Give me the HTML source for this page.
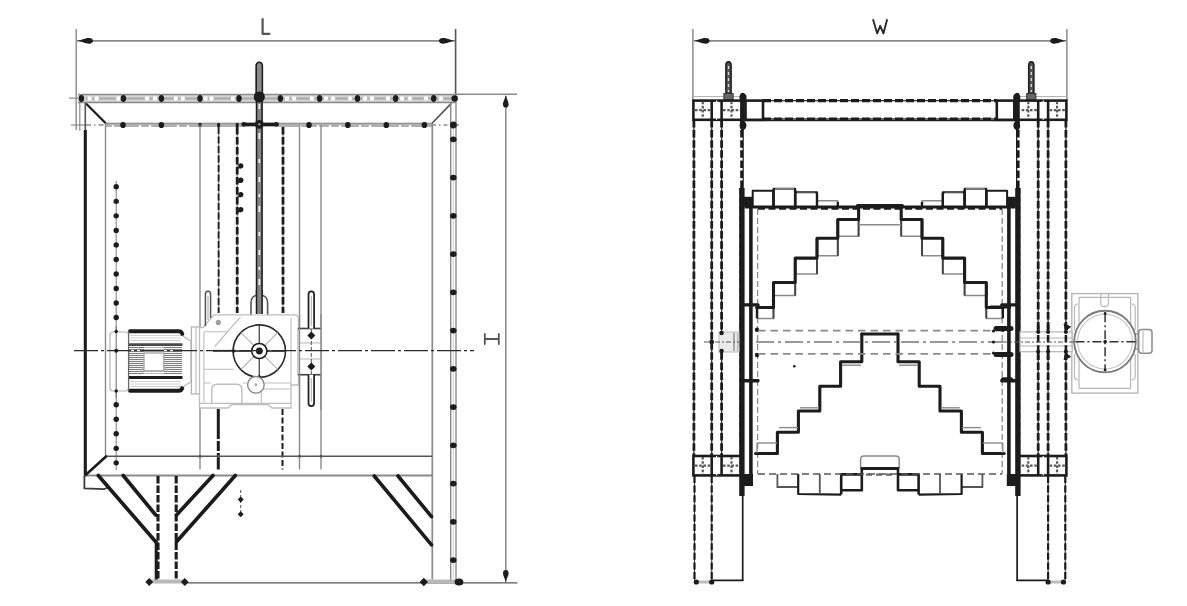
<!DOCTYPE html>
<html><head><meta charset="utf-8"><title>Drawing</title>
<style>
html,body{margin:0;padding:0;background:#fff;font-family:"Liberation Sans",sans-serif;}
svg{display:block;filter:blur(0.5px);}
</style></head><body>
<svg width="1187" height="606" viewBox="0 0 1187 606">
<rect width="1187" height="606" fill="#fff"/>
<g id="left">
<line x1="76.2" y1="29" x2="76.2" y2="130" stroke="#8a8a8a" stroke-width="1.4" stroke-linecap="butt"/>
<line x1="455.6" y1="29" x2="455.6" y2="103" stroke="#555" stroke-width="1.6" stroke-linecap="butt"/>
<line x1="77" y1="40.8" x2="455" y2="40.8" stroke="#8a8a8a" stroke-width="1.8" stroke-linecap="butt"/>
<path d="M77,40.8 C82.6,39.93 85.0,37.9 89.0,37.9 C91.72,37.9 93,39.059999999999995 93,40.8 C93,42.54 91.72,43.699999999999996 89.0,43.699999999999996 C85.0,43.699999999999996 82.6,41.669999999999995 77,40.8 Z" fill="#1c1c1c"/>
<path d="M455,40.8 C449.4,39.93 447.0,37.9 443.0,37.9 C440.28,37.9 439,39.059999999999995 439,40.8 C439,42.54 440.28,43.699999999999996 443.0,43.699999999999996 C447.0,43.699999999999996 449.4,41.669999999999995 455,40.8 Z" fill="#1c1c1c"/>
<path d="M262.6,19 L262.6,33.8 L269.4,33.8" stroke="#555" stroke-width="2.2" fill="none" stroke-linejoin="round" stroke-linecap="round"/>
<line x1="455" y1="94.3" x2="517" y2="94.3" stroke="#8a8a8a" stroke-width="1.6" stroke-linecap="butt"/>
<line x1="185" y1="582.8" x2="517.5" y2="582.8" stroke="#555" stroke-width="1.3" stroke-linecap="butt"/>
<line x1="505.8" y1="96" x2="505.8" y2="582" stroke="#8a8a8a" stroke-width="1.5" stroke-linecap="butt"/>
<path d="M505.8,95 C504.96000000000004,99.38 503.0,101.25 503.0,104.38 C503.0,106.5 504.12,107.5 505.8,107.5 C507.48,107.5 508.6,106.5 508.6,104.38 C508.6,101.25 506.64,99.38 505.8,95 Z" fill="#1c1c1c"/>
<path d="M505.8,582.5 C504.96000000000004,578.12 503.0,576.25 503.0,573.12 C503.0,571.0 504.12,570.0 505.8,570.0 C507.48,570.0 508.6,571.0 508.6,573.12 C508.6,576.25 506.64,578.12 505.8,582.5 Z" fill="#1c1c1c"/>
<path d="M484.8,334 L484.8,344 M498.8,334 L498.8,344 M484.8,339 L498.8,339" stroke="#555" stroke-width="1.8" fill="none" stroke-linejoin="miter" stroke-linecap="round"/>
<line x1="79.8" y1="99" x2="79.8" y2="131" stroke="#8a8a8a" stroke-width="1.2" stroke-linecap="butt"/>
<line x1="69" y1="98.2" x2="80" y2="98.2" stroke="#8a8a8a" stroke-width="1.2" stroke-linecap="butt"/>
<line x1="71" y1="125" x2="86" y2="125" stroke="#8a8a8a" stroke-width="1.2" stroke-linecap="butt"/>
<line x1="86" y1="125" x2="105" y2="125" stroke="#555" stroke-width="1.2" stroke-linecap="butt" stroke-dasharray="5 3 1.5 3"/>
<rect x="78" y="94.2" width="377.5" height="8.6" fill="#d4d4d4" stroke="none" stroke-width="0" rx="0"/>
<line x1="78" y1="94.4" x2="455.5" y2="94.4" stroke="#8a8a8a" stroke-width="1.5" stroke-linecap="butt"/>
<line x1="78" y1="102.6" x2="455.5" y2="102.6" stroke="#8a8a8a" stroke-width="1.5" stroke-linecap="butt"/>
<line x1="86" y1="98.5" x2="452" y2="98.5" stroke="#a8a8a8" stroke-width="2.2" stroke-linecap="butt"/>
<circle cx="89.7" cy="98.5" r="2.2" fill="#fff" stroke="none" stroke-width="0"/>
<circle cx="96.6" cy="98.5" r="2.2" fill="#fff" stroke="none" stroke-width="0"/>
<circle cx="118.4" cy="98.5" r="2.2" fill="#fff" stroke="none" stroke-width="0"/>
<circle cx="147" cy="98.5" r="2.2" fill="#fff" stroke="none" stroke-width="0"/>
<circle cx="155" cy="98.5" r="2.2" fill="#fff" stroke="none" stroke-width="0"/>
<circle cx="175.8" cy="98.5" r="2.2" fill="#fff" stroke="none" stroke-width="0"/>
<circle cx="182.8" cy="98.5" r="2.2" fill="#fff" stroke="none" stroke-width="0"/>
<circle cx="205.5" cy="98.5" r="2.2" fill="#fff" stroke="none" stroke-width="0"/>
<circle cx="211.5" cy="98.5" r="2.2" fill="#fff" stroke="none" stroke-width="0"/>
<circle cx="233" cy="98.5" r="2.2" fill="#fff" stroke="none" stroke-width="0"/>
<circle cx="287" cy="98.5" r="2.2" fill="#fff" stroke="none" stroke-width="0"/>
<circle cx="294" cy="98.5" r="2.2" fill="#fff" stroke="none" stroke-width="0"/>
<circle cx="312" cy="98.5" r="2.2" fill="#fff" stroke="none" stroke-width="0"/>
<circle cx="326" cy="98.5" r="2.2" fill="#fff" stroke="none" stroke-width="0"/>
<circle cx="333" cy="98.5" r="2.2" fill="#fff" stroke="none" stroke-width="0"/>
<circle cx="350" cy="98.5" r="2.2" fill="#fff" stroke="none" stroke-width="0"/>
<circle cx="365" cy="98.5" r="2.2" fill="#fff" stroke="none" stroke-width="0"/>
<circle cx="372" cy="98.5" r="2.2" fill="#fff" stroke="none" stroke-width="0"/>
<circle cx="388" cy="98.5" r="2.2" fill="#fff" stroke="none" stroke-width="0"/>
<circle cx="402" cy="98.5" r="2.2" fill="#fff" stroke="none" stroke-width="0"/>
<circle cx="410" cy="98.5" r="2.2" fill="#fff" stroke="none" stroke-width="0"/>
<circle cx="426" cy="98.5" r="2.2" fill="#fff" stroke="none" stroke-width="0"/>
<circle cx="441" cy="98.5" r="2.2" fill="#fff" stroke="none" stroke-width="0"/>
<ellipse cx="81.4" cy="98.5" rx="2.7" ry="3.4" fill="#1c1c1c"/>
<ellipse cx="123.4" cy="98.5" rx="2.7" ry="3.4" fill="#1c1c1c"/>
<ellipse cx="161.4" cy="98.5" rx="2.7" ry="3.4" fill="#1c1c1c"/>
<ellipse cx="200" cy="98.5" rx="2.7" ry="3.4" fill="#1c1c1c"/>
<ellipse cx="239" cy="98.5" rx="2.7" ry="3.4" fill="#1c1c1c"/>
<ellipse cx="280.4" cy="98.5" rx="2.7" ry="3.4" fill="#1c1c1c"/>
<ellipse cx="319.6" cy="98.5" rx="2.7" ry="3.4" fill="#1c1c1c"/>
<ellipse cx="357.5" cy="98.5" rx="2.7" ry="3.4" fill="#1c1c1c"/>
<ellipse cx="395.6" cy="98.5" rx="2.7" ry="3.4" fill="#1c1c1c"/>
<ellipse cx="433.7" cy="98.5" rx="2.7" ry="3.4" fill="#1c1c1c"/>
<circle cx="454.7" cy="98.5" r="3.2" fill="#1c1c1c" stroke="none" stroke-width="0"/>
<line x1="105.5" y1="125" x2="432" y2="125" stroke="#b0b0b0" stroke-width="4.2" stroke-linecap="butt"/>
<line x1="105.5" y1="123.2" x2="432" y2="123.2" stroke="#8a8a8a" stroke-width="1" stroke-linecap="butt"/>
<circle cx="113" cy="126.3" r="1.2" fill="#fff" stroke="none" stroke-width="0"/>
<circle cx="140" cy="126.3" r="1.2" fill="#fff" stroke="none" stroke-width="0"/>
<circle cx="150" cy="126.3" r="1.2" fill="#fff" stroke="none" stroke-width="0"/>
<circle cx="178" cy="126.3" r="1.2" fill="#fff" stroke="none" stroke-width="0"/>
<circle cx="188" cy="126.3" r="1.2" fill="#fff" stroke="none" stroke-width="0"/>
<circle cx="300" cy="126.3" r="1.2" fill="#fff" stroke="none" stroke-width="0"/>
<circle cx="318" cy="126.3" r="1.2" fill="#fff" stroke="none" stroke-width="0"/>
<circle cx="330" cy="126.3" r="1.2" fill="#fff" stroke="none" stroke-width="0"/>
<circle cx="340" cy="126.3" r="1.2" fill="#fff" stroke="none" stroke-width="0"/>
<circle cx="360" cy="126.3" r="1.2" fill="#fff" stroke="none" stroke-width="0"/>
<circle cx="370" cy="126.3" r="1.2" fill="#fff" stroke="none" stroke-width="0"/>
<circle cx="400" cy="126.3" r="1.2" fill="#fff" stroke="none" stroke-width="0"/>
<circle cx="410" cy="126.3" r="1.2" fill="#fff" stroke="none" stroke-width="0"/>
<ellipse cx="123" cy="125" rx="2.8" ry="3.1" fill="#1c1c1c"/>
<ellipse cx="161.4" cy="125" rx="2.8" ry="3.1" fill="#1c1c1c"/>
<ellipse cx="309" cy="125" rx="2.8" ry="3.1" fill="#1c1c1c"/>
<ellipse cx="347.8" cy="125" rx="2.8" ry="3.1" fill="#1c1c1c"/>
<ellipse cx="386.3" cy="125" rx="2.8" ry="3.1" fill="#1c1c1c"/>
<ellipse cx="424.4" cy="125" rx="2.8" ry="3.1" fill="#1c1c1c"/>
<ellipse cx="200" cy="125" rx="1.6" ry="2.2" fill="#1c1c1c"/>
<ellipse cx="218.6" cy="125" rx="1.6" ry="2.2" fill="#1c1c1c"/>
<ellipse cx="237.2" cy="125" rx="1.6" ry="2.2" fill="#1c1c1c"/>
<line x1="432" y1="125" x2="462" y2="125" stroke="#555" stroke-width="1.2" stroke-linecap="butt" stroke-dasharray="4 3 1.5 3"/>
<line x1="86.7" y1="104.2" x2="105.5" y2="123" stroke="#1c1c1c" stroke-width="2.2" stroke-linecap="round"/>
<line x1="432.3" y1="123" x2="451.5" y2="103.2" stroke="#555" stroke-width="1.7" stroke-linecap="butt"/>
<line x1="85.3" y1="103" x2="85.3" y2="131" stroke="#555" stroke-width="1.6" stroke-linecap="butt"/>
<line x1="85.3" y1="130" x2="85.3" y2="475.5" stroke="#1c1c1c" stroke-width="3.1" stroke-linecap="butt"/>
<line x1="105.5" y1="123" x2="105.5" y2="456.3" stroke="#8a8a8a" stroke-width="1.4" stroke-linecap="butt"/>
<line x1="116.2" y1="181" x2="116.2" y2="470" stroke="#8a8a8a" stroke-width="1.1" stroke-linecap="butt"/>
<circle cx="116.2" cy="186.8" r="2.7" fill="#1c1c1c" stroke="none" stroke-width="0"/>
<circle cx="116.2" cy="201.33" r="2.7" fill="#1c1c1c" stroke="none" stroke-width="0"/>
<circle cx="116.2" cy="215.86" r="2.7" fill="#1c1c1c" stroke="none" stroke-width="0"/>
<circle cx="116.2" cy="230.39000000000001" r="2.7" fill="#1c1c1c" stroke="none" stroke-width="0"/>
<circle cx="116.2" cy="244.92000000000002" r="2.7" fill="#1c1c1c" stroke="none" stroke-width="0"/>
<circle cx="116.2" cy="259.45" r="2.7" fill="#1c1c1c" stroke="none" stroke-width="0"/>
<circle cx="116.2" cy="273.98" r="2.7" fill="#1c1c1c" stroke="none" stroke-width="0"/>
<circle cx="116.2" cy="288.51" r="2.7" fill="#1c1c1c" stroke="none" stroke-width="0"/>
<circle cx="116.2" cy="303.04" r="2.7" fill="#1c1c1c" stroke="none" stroke-width="0"/>
<circle cx="116.2" cy="317.57" r="2.7" fill="#1c1c1c" stroke="none" stroke-width="0"/>
<circle cx="116.2" cy="404.75" r="2.7" fill="#1c1c1c" stroke="none" stroke-width="0"/>
<circle cx="116.2" cy="419.28" r="2.7" fill="#1c1c1c" stroke="none" stroke-width="0"/>
<circle cx="116.2" cy="433.81" r="2.7" fill="#1c1c1c" stroke="none" stroke-width="0"/>
<circle cx="116.2" cy="448.34" r="2.7" fill="#1c1c1c" stroke="none" stroke-width="0"/>
<circle cx="116.2" cy="462.87" r="2.7" fill="#1c1c1c" stroke="none" stroke-width="0"/>
<line x1="200" y1="125" x2="200" y2="469.5" stroke="#8a8a8a" stroke-width="1.4" stroke-linecap="butt"/>
<line x1="299.5" y1="125" x2="299.5" y2="469.5" stroke="#8a8a8a" stroke-width="1.4" stroke-linecap="butt"/>
<line x1="321" y1="125" x2="321" y2="469.5" stroke="#8a8a8a" stroke-width="1.4" stroke-linecap="butt"/>
<line x1="218.6" y1="127" x2="218.6" y2="313" stroke="#8a8a8a" stroke-width="1.3" stroke-linecap="butt"/>
<line x1="237.2" y1="127" x2="237.2" y2="313" stroke="#8a8a8a" stroke-width="1.3" stroke-linecap="butt"/>
<line x1="283" y1="127" x2="283" y2="313" stroke="#8a8a8a" stroke-width="1.3" stroke-linecap="butt"/>
<line x1="218.6" y1="127" x2="218.6" y2="313" stroke="#1c1c1c" stroke-width="1.8" stroke-linecap="butt" stroke-dasharray="7 2.5"/>
<line x1="237.2" y1="127" x2="237.2" y2="313" stroke="#1c1c1c" stroke-width="2.8" stroke-linecap="butt" stroke-dasharray="7.5 2.5"/>
<line x1="283" y1="127" x2="283" y2="313" stroke="#1c1c1c" stroke-width="2.8" stroke-linecap="butt" stroke-dasharray="7.5 2.5"/>
<line x1="218.3" y1="409" x2="218.3" y2="469.5" stroke="#1c1c1c" stroke-width="3" stroke-linecap="butt" stroke-dasharray="30 2 10 2"/>
<line x1="282.5" y1="409" x2="282.5" y2="469.5" stroke="#1c1c1c" stroke-width="2" stroke-linecap="butt" stroke-dasharray="6 2.5"/>
<circle cx="240.8" cy="165.8" r="2.6" fill="#1c1c1c" stroke="none" stroke-width="0"/>
<line x1="238" y1="167.8" x2="241" y2="167.8" stroke="#1c1c1c" stroke-width="1.2" stroke-linecap="butt"/>
<circle cx="240.8" cy="180.2" r="2.6" fill="#1c1c1c" stroke="none" stroke-width="0"/>
<line x1="238" y1="182.2" x2="241" y2="182.2" stroke="#1c1c1c" stroke-width="1.2" stroke-linecap="butt"/>
<circle cx="240.8" cy="194.6" r="2.6" fill="#1c1c1c" stroke="none" stroke-width="0"/>
<line x1="238" y1="196.6" x2="241" y2="196.6" stroke="#1c1c1c" stroke-width="1.2" stroke-linecap="butt"/>
<circle cx="240.8" cy="209.6" r="2.6" fill="#1c1c1c" stroke="none" stroke-width="0"/>
<line x1="238" y1="211.6" x2="241" y2="211.6" stroke="#1c1c1c" stroke-width="1.2" stroke-linecap="butt"/>
<rect x="256.2" y="64" width="6.2" height="236" fill="#858585" stroke="none" stroke-width="0" rx="0"/>
<line x1="256.5" y1="64" x2="256.5" y2="300" stroke="#1c1c1c" stroke-width="1.5" stroke-linecap="butt"/>
<line x1="262.1" y1="64" x2="262.1" y2="300" stroke="#1c1c1c" stroke-width="1.5" stroke-linecap="butt"/>
<path d="M256.2,66 Q256.2,62.2 259.3,62.2 Q262.4,62.2 262.4,66 L262.4,96 L256.2,96 Z" stroke="#1c1c1c" stroke-width="1.5" fill="#8a8a8a" stroke-linejoin="miter" stroke-linecap="butt"/>
<line x1="259.3" y1="104" x2="259.3" y2="296" stroke="#fff" stroke-width="1.6" stroke-linecap="butt" stroke-dasharray="5 12 3 9 6 20 4 14"/>
<circle cx="259.3" cy="97" r="5.6" fill="#1c1c1c" stroke="none" stroke-width="0"/>
<line x1="243.5" y1="124.3" x2="276.5" y2="124.3" stroke="#1c1c1c" stroke-width="3.2" stroke-linecap="round"/>
<circle cx="243.8" cy="124.3" r="2.4" fill="#1c1c1c" stroke="none" stroke-width="0"/>
<circle cx="276.4" cy="124.3" r="2.4" fill="#1c1c1c" stroke="none" stroke-width="0"/>
<circle cx="259.3" cy="124.3" r="4.4" fill="#1c1c1c" stroke="none" stroke-width="0"/>
<circle cx="259.3" cy="124.3" r="1.2" fill="#999" stroke="none" stroke-width="0"/>
<line x1="432.3" y1="123" x2="432.3" y2="579.5" stroke="#8a8a8a" stroke-width="1.7" stroke-linecap="butt"/>
<line x1="450.7" y1="103" x2="450.7" y2="580" stroke="#8a8a8a" stroke-width="1.4" stroke-linecap="butt"/>
<line x1="456" y1="103" x2="456" y2="580" stroke="#8a8a8a" stroke-width="1.4" stroke-linecap="butt"/>
<line x1="453.3" y1="128" x2="453.3" y2="578" stroke="#d8d8d8" stroke-width="1.2" stroke-linecap="butt"/>
<ellipse cx="453.3" cy="139.3" rx="3.3" ry="2.9" fill="#1c1c1c"/>
<ellipse cx="453.3" cy="177.55" rx="3.3" ry="2.9" fill="#1c1c1c"/>
<ellipse cx="453.3" cy="215.8" rx="3.3" ry="2.9" fill="#1c1c1c"/>
<ellipse cx="453.3" cy="254.05" rx="3.3" ry="2.9" fill="#1c1c1c"/>
<ellipse cx="453.3" cy="292.3" rx="3.3" ry="2.9" fill="#1c1c1c"/>
<ellipse cx="453.3" cy="330.55" rx="3.3" ry="2.9" fill="#1c1c1c"/>
<ellipse cx="453.3" cy="368.8" rx="3.3" ry="2.9" fill="#1c1c1c"/>
<ellipse cx="453.3" cy="407.05" rx="3.3" ry="2.9" fill="#1c1c1c"/>
<ellipse cx="453.3" cy="445.3" rx="3.3" ry="2.9" fill="#1c1c1c"/>
<ellipse cx="453.3" cy="483.55" rx="3.3" ry="2.9" fill="#1c1c1c"/>
<ellipse cx="453.3" cy="521.8" rx="3.3" ry="2.9" fill="#1c1c1c"/>
<ellipse cx="453.3" cy="560.05" rx="3.3" ry="2.9" fill="#1c1c1c"/>
<circle cx="453.3" cy="125" r="3.4" fill="#1c1c1c" stroke="none" stroke-width="0"/>
<line x1="106" y1="456.3" x2="432.3" y2="456.3" stroke="#555" stroke-width="1.5" stroke-linecap="butt"/>
<line x1="85" y1="475.5" x2="432.3" y2="475.5" stroke="#8a8a8a" stroke-width="1.8" stroke-linecap="butt"/>
<line x1="85.6" y1="475" x2="106" y2="456.5" stroke="#1c1c1c" stroke-width="2.6" stroke-linecap="round"/>
<circle cx="200" cy="456.3" r="1.5" fill="#555" stroke="none" stroke-width="0"/>
<circle cx="218.3" cy="456.3" r="1.5" fill="#555" stroke="none" stroke-width="0"/>
<circle cx="299.5" cy="456.3" r="1.5" fill="#555" stroke="none" stroke-width="0"/>
<circle cx="321" cy="456.3" r="1.5" fill="#555" stroke="none" stroke-width="0"/>
<path d="M84.4,475.5 L84.4,488.3 L104,489.2 L108.5,487" stroke="#3a3a3a" stroke-width="1.8" fill="none" stroke-linejoin="miter" stroke-linecap="butt"/>
<line x1="98.3" y1="475.5" x2="155.7" y2="541.8" stroke="#1c1c1c" stroke-width="3.7" stroke-linecap="round"/>
<line x1="123.2" y1="475.5" x2="155.7" y2="515" stroke="#1c1c1c" stroke-width="3.7" stroke-linecap="round"/>
<line x1="213" y1="475.5" x2="176.5" y2="515" stroke="#1c1c1c" stroke-width="3.7" stroke-linecap="round"/>
<line x1="235.3" y1="475.5" x2="176.5" y2="541.8" stroke="#1c1c1c" stroke-width="3.7" stroke-linecap="round"/>
<line x1="158" y1="476" x2="158" y2="580" stroke="#1c1c1c" stroke-width="3.1" stroke-linecap="butt" stroke-dasharray="7.5 2"/>
<line x1="176.2" y1="476" x2="176.2" y2="580" stroke="#1c1c1c" stroke-width="3.1" stroke-linecap="butt" stroke-dasharray="7.5 2"/>
<line x1="156.2" y1="540" x2="156.2" y2="580" stroke="#1c1c1c" stroke-width="3" stroke-linecap="butt"/>
<line x1="150" y1="581.5" x2="184" y2="581.5" stroke="#b8b8b8" stroke-width="4" stroke-linecap="butt"/>
<path d="M145.29999999999998,582 L149.2,578.1 L153.1,582 L149.2,585.9 Z" fill="#1c1c1c"/>
<path d="M180.9,582 L184.8,578.1 L188.70000000000002,582 L184.8,585.9 Z" fill="#1c1c1c"/>
<line x1="240.7" y1="490" x2="240.7" y2="515" stroke="#555" stroke-width="1" stroke-linecap="butt" stroke-dasharray="3 2"/>
<path d="M237.7,499.6 L240.7,496.6 L243.7,499.6 L240.7,502.6 Z" fill="#1c1c1c"/>
<path d="M237.7,514.3 L240.7,511.29999999999995 L243.7,514.3 L240.7,517.3 Z" fill="#1c1c1c"/>
<line x1="374.2" y1="476" x2="431.5" y2="544.8" stroke="#1c1c1c" stroke-width="3.6" stroke-linecap="round"/>
<line x1="398" y1="476" x2="431.5" y2="516.6" stroke="#1c1c1c" stroke-width="3.6" stroke-linecap="round"/>
<line x1="424" y1="581.5" x2="458" y2="581.5" stroke="#b8b8b8" stroke-width="4" stroke-linecap="butt"/>
<path d="M419.6,582 L423.8,577.8 L428.0,582 L423.8,586.2 Z" fill="#1c1c1c"/>
<ellipse cx="459" cy="582" rx="4.4" ry="3.6" fill="#1c1c1c"/>
<rect x="110" y="332" width="18.5" height="59" fill="#fff" stroke="#b4b4b4" stroke-width="1.2" rx="3"/>
<rect x="128.2" y="329.5" width="54.5" height="64" fill="#fff" stroke="none" stroke-width="0" rx="0"/>
<line x1="130" y1="335.5" x2="181" y2="335.5" stroke="#d0d0d0" stroke-width="1" stroke-linecap="butt"/>
<line x1="130" y1="338" x2="181" y2="338" stroke="#d0d0d0" stroke-width="1" stroke-linecap="butt"/>
<line x1="130" y1="340.5" x2="181" y2="340.5" stroke="#d0d0d0" stroke-width="1" stroke-linecap="butt"/>
<line x1="130" y1="381.5" x2="181" y2="381.5" stroke="#d0d0d0" stroke-width="1" stroke-linecap="butt"/>
<line x1="130" y1="384" x2="181" y2="384" stroke="#d0d0d0" stroke-width="1" stroke-linecap="butt"/>
<line x1="130" y1="386.5" x2="181" y2="386.5" stroke="#d0d0d0" stroke-width="1" stroke-linecap="butt"/>
<line x1="129" y1="347.5" x2="144" y2="347.5" stroke="#808080" stroke-width="1.1" stroke-linecap="butt"/>
<line x1="164" y1="347.5" x2="182" y2="347.5" stroke="#808080" stroke-width="1.1" stroke-linecap="butt"/>
<line x1="144" y1="347.5" x2="164" y2="347.5" stroke="#b8b8b8" stroke-width="1" stroke-linecap="butt"/>
<line x1="129" y1="349.5" x2="144" y2="349.5" stroke="#808080" stroke-width="1.1" stroke-linecap="butt"/>
<line x1="164" y1="349.5" x2="182" y2="349.5" stroke="#808080" stroke-width="1.1" stroke-linecap="butt"/>
<line x1="144" y1="349.5" x2="164" y2="349.5" stroke="#b8b8b8" stroke-width="1" stroke-linecap="butt"/>
<line x1="129" y1="351.5" x2="144" y2="351.5" stroke="#808080" stroke-width="1.1" stroke-linecap="butt"/>
<line x1="164" y1="351.5" x2="182" y2="351.5" stroke="#808080" stroke-width="1.1" stroke-linecap="butt"/>
<line x1="144" y1="351.5" x2="164" y2="351.5" stroke="#b8b8b8" stroke-width="1" stroke-linecap="butt"/>
<line x1="129" y1="353.5" x2="144" y2="353.5" stroke="#808080" stroke-width="1.1" stroke-linecap="butt"/>
<line x1="164" y1="353.5" x2="182" y2="353.5" stroke="#808080" stroke-width="1.1" stroke-linecap="butt"/>
<line x1="144" y1="353.5" x2="164" y2="353.5" stroke="#b8b8b8" stroke-width="1" stroke-linecap="butt"/>
<line x1="129" y1="355.5" x2="144" y2="355.5" stroke="#808080" stroke-width="1.1" stroke-linecap="butt"/>
<line x1="164" y1="355.5" x2="182" y2="355.5" stroke="#808080" stroke-width="1.1" stroke-linecap="butt"/>
<line x1="144" y1="355.5" x2="164" y2="355.5" stroke="#b8b8b8" stroke-width="1" stroke-linecap="butt"/>
<line x1="129" y1="357.5" x2="144" y2="357.5" stroke="#808080" stroke-width="1.1" stroke-linecap="butt"/>
<line x1="164" y1="357.5" x2="182" y2="357.5" stroke="#808080" stroke-width="1.1" stroke-linecap="butt"/>
<line x1="144" y1="357.5" x2="164" y2="357.5" stroke="#b8b8b8" stroke-width="1" stroke-linecap="butt"/>
<line x1="129" y1="359.5" x2="144" y2="359.5" stroke="#808080" stroke-width="1.1" stroke-linecap="butt"/>
<line x1="164" y1="359.5" x2="182" y2="359.5" stroke="#808080" stroke-width="1.1" stroke-linecap="butt"/>
<line x1="144" y1="359.5" x2="164" y2="359.5" stroke="#b8b8b8" stroke-width="1" stroke-linecap="butt"/>
<line x1="129" y1="361.5" x2="144" y2="361.5" stroke="#808080" stroke-width="1.1" stroke-linecap="butt"/>
<line x1="164" y1="361.5" x2="182" y2="361.5" stroke="#808080" stroke-width="1.1" stroke-linecap="butt"/>
<line x1="144" y1="361.5" x2="164" y2="361.5" stroke="#b8b8b8" stroke-width="1" stroke-linecap="butt"/>
<line x1="129" y1="363.5" x2="144" y2="363.5" stroke="#808080" stroke-width="1.1" stroke-linecap="butt"/>
<line x1="164" y1="363.5" x2="182" y2="363.5" stroke="#808080" stroke-width="1.1" stroke-linecap="butt"/>
<line x1="144" y1="363.5" x2="164" y2="363.5" stroke="#b8b8b8" stroke-width="1" stroke-linecap="butt"/>
<line x1="129" y1="365.5" x2="144" y2="365.5" stroke="#808080" stroke-width="1.1" stroke-linecap="butt"/>
<line x1="164" y1="365.5" x2="182" y2="365.5" stroke="#808080" stroke-width="1.1" stroke-linecap="butt"/>
<line x1="144" y1="365.5" x2="164" y2="365.5" stroke="#b8b8b8" stroke-width="1" stroke-linecap="butt"/>
<line x1="129" y1="367.5" x2="144" y2="367.5" stroke="#808080" stroke-width="1.1" stroke-linecap="butt"/>
<line x1="164" y1="367.5" x2="182" y2="367.5" stroke="#808080" stroke-width="1.1" stroke-linecap="butt"/>
<line x1="144" y1="367.5" x2="164" y2="367.5" stroke="#b8b8b8" stroke-width="1" stroke-linecap="butt"/>
<line x1="129" y1="369.5" x2="144" y2="369.5" stroke="#808080" stroke-width="1.1" stroke-linecap="butt"/>
<line x1="164" y1="369.5" x2="182" y2="369.5" stroke="#808080" stroke-width="1.1" stroke-linecap="butt"/>
<line x1="144" y1="369.5" x2="164" y2="369.5" stroke="#b8b8b8" stroke-width="1" stroke-linecap="butt"/>
<line x1="129" y1="371.5" x2="144" y2="371.5" stroke="#808080" stroke-width="1.1" stroke-linecap="butt"/>
<line x1="164" y1="371.5" x2="182" y2="371.5" stroke="#808080" stroke-width="1.1" stroke-linecap="butt"/>
<line x1="144" y1="371.5" x2="164" y2="371.5" stroke="#b8b8b8" stroke-width="1" stroke-linecap="butt"/>
<line x1="129" y1="373.5" x2="144" y2="373.5" stroke="#808080" stroke-width="1.1" stroke-linecap="butt"/>
<line x1="164" y1="373.5" x2="182" y2="373.5" stroke="#808080" stroke-width="1.1" stroke-linecap="butt"/>
<line x1="144" y1="373.5" x2="164" y2="373.5" stroke="#b8b8b8" stroke-width="1" stroke-linecap="butt"/>
<rect x="144" y="353" width="19.8" height="17.8" fill="#fff" stroke="#aaa" stroke-width="1.4" rx="0"/>
<path d="M140,372 L144,366 M168,372 L164,366" stroke="#b4b4b4" stroke-width="1.2" fill="none" stroke-linejoin="miter" stroke-linecap="butt"/>
<line x1="128.5" y1="344.6" x2="182.5" y2="344.6" stroke="#4a4a4a" stroke-width="2.6" stroke-linecap="butt"/>
<line x1="128.5" y1="377.6" x2="182.5" y2="377.6" stroke="#1c1c1c" stroke-width="3" stroke-linecap="butt"/>
<path d="M130,331.2 L178.5,331.2 Q181.5,331.2 182.3,334" stroke="#1c1c1c" stroke-width="4" fill="none" stroke-linejoin="round" stroke-linecap="round"/>
<path d="M130,390.8 L178.5,390.8 Q181.5,390.8 182.3,388" stroke="#1c1c1c" stroke-width="4" fill="none" stroke-linejoin="round" stroke-linecap="round"/>
<line x1="128.6" y1="331" x2="128.6" y2="391" stroke="#666" stroke-width="1.2" stroke-linecap="butt"/>
<path d="M182.5,336 L191,341 L191,382 L182.5,387" stroke="#b4b4b4" stroke-width="1.2" fill="none" stroke-linejoin="miter" stroke-linecap="butt"/>
<rect x="191.4" y="327" width="9.2" height="67" fill="#fff" stroke="#b4b4b4" stroke-width="1.3" rx="0"/>
<line x1="196" y1="327" x2="196" y2="394" stroke="#b4b4b4" stroke-width="1" stroke-linecap="butt"/>
<path d="M199.5,327.7 L203,327.7 L213.8,314.9 L294,314.9 Q298.5,314.9 298.5,319 L298.5,385 L291,385 L291,408 L272,408 L268,404.5 L232,404.5 L228,408 L199.5,408 Z" stroke="#bdbdbd" stroke-width="1.3" fill="#fff" stroke-linejoin="miter" stroke-linecap="butt"/>
<path d="M203.9,332 L203.9,402 M291,318 L291,385 M203.9,331.7 L228,331.7 M203.9,369.3 L234,369.3 M203.9,383 L211,383 M243,383 L248,383 M264,383 L291,383 M199.5,403.4 L291,403.4" stroke="#bdbdbd" stroke-width="1.1" fill="none" stroke-linejoin="miter" stroke-linecap="butt"/>
<path d="M214.8,346.5 L240.5,316.8" stroke="#bdbdbd" stroke-width="1.2" fill="none" stroke-linejoin="miter" stroke-linecap="butt"/>
<path d="M211.8,403.4 L211.8,389.5 Q211.8,384.2 217,384.2 L236.7,384.2 Q241.9,384.2 241.9,389.5 L241.9,403.4" stroke="#bdbdbd" stroke-width="1.4" fill="none" stroke-linejoin="miter" stroke-linecap="butt"/>
<path d="M261.3,403.4 L261.3,392 Q261.3,389 264,389 L291,389" stroke="#bdbdbd" stroke-width="1.1" fill="none" stroke-linejoin="miter" stroke-linecap="butt"/>
<circle cx="259.3" cy="351.1" r="26.2" fill="#fff" stroke="#2a2a2a" stroke-width="1.6"/>
<line x1="240.91522368914977" y1="332.6152236891498" x2="277.6847763108502" y2="369.3847763108502" stroke="#b4b4b4" stroke-width="1.2" stroke-linecap="butt"/>
<line x1="277.6847763108502" y1="332.6152236891498" x2="240.91522368914977" y2="369.3847763108502" stroke="#b4b4b4" stroke-width="1.2" stroke-linecap="butt"/>
<line x1="259.3" y1="325" x2="259.3" y2="377" stroke="#555" stroke-width="1.4" stroke-linecap="butt"/>
<line x1="233.3" y1="351" x2="285.3" y2="351" stroke="#1c1c1c" stroke-width="1.5" stroke-linecap="butt"/>
<circle cx="259.3" cy="351" r="7.6" fill="#fff" stroke="#1c1c1c" stroke-width="1.5"/>
<circle cx="259.3" cy="351" r="3.4" fill="#1c1c1c" stroke="none" stroke-width="0"/>
<circle cx="233.5" cy="351" r="1.8" fill="#1c1c1c" stroke="none" stroke-width="0"/>
<circle cx="259.3" cy="377" r="1.8" fill="#1c1c1c" stroke="none" stroke-width="0"/>
<line x1="213" y1="350.8" x2="234" y2="350.8" stroke="#1c1c1c" stroke-width="1.8" stroke-linecap="butt"/>
<circle cx="255.9" cy="384.8" r="8.3" fill="#fff" stroke="#888" stroke-width="1.4"/>
<circle cx="255.9" cy="384.8" r="1.6" fill="#b4b4b4" stroke="none" stroke-width="0"/>
<circle cx="218.3" cy="322.4" r="2.6" fill="#a0a0a0" stroke="none" stroke-width="0"/>
<path d="M205.4,326 L205.4,294.5 Q205.4,291.3 208,291.3 Q210.6,291.3 210.6,294.5 L210.6,318" stroke="#555" stroke-width="1.5" fill="none" stroke-linejoin="miter" stroke-linecap="butt"/>
<line x1="208" y1="296" x2="208" y2="320" stroke="#b4b4b4" stroke-width="1.2" stroke-linecap="butt"/>
<path d="M251,314.6 L251,303 Q251,295 259.3,295 Q267.6,295 267.6,303 L267.6,314.6" stroke="#555" stroke-width="1.6" fill="#fff" stroke-linejoin="miter" stroke-linecap="butt"/>
<rect x="256.2" y="290" width="6.2" height="24" fill="#858585" stroke="none" stroke-width="0" rx="0"/>
<line x1="256.5" y1="290" x2="256.5" y2="314" stroke="#1c1c1c" stroke-width="1.5" stroke-linecap="butt"/>
<line x1="262.1" y1="290" x2="262.1" y2="314" stroke="#1c1c1c" stroke-width="1.5" stroke-linecap="butt"/>
<rect x="298" y="328.5" width="23" height="46.2" fill="#fff" stroke="#b4b4b4" stroke-width="1.2" rx="0"/>
<line x1="298" y1="328.5" x2="321" y2="328.5" stroke="#444" stroke-width="1.6" stroke-linecap="butt"/>
<line x1="298" y1="374.7" x2="321" y2="374.7" stroke="#444" stroke-width="1.6" stroke-linecap="butt"/>
<line x1="298" y1="343" x2="321" y2="343" stroke="#b4b4b4" stroke-width="1" stroke-linecap="butt"/>
<line x1="298" y1="359" x2="321" y2="359" stroke="#b4b4b4" stroke-width="1" stroke-linecap="butt"/>
<path d="M308.5,328.5 L308.5,294.5 Q308.5,291.3 311.3,291.3 Q314.1,291.3 314.1,294.5 L314.1,328.5" stroke="#1c1c1c" stroke-width="1.7" fill="#fff" stroke-linejoin="miter" stroke-linecap="butt"/>
<path d="M308.5,374.7 L308.5,403 Q308.5,406.2 311.3,406.2 Q314.1,406.2 314.1,403 L314.1,374.7" stroke="#1c1c1c" stroke-width="1.7" fill="#fff" stroke-linejoin="miter" stroke-linecap="butt"/>
<line x1="311.3" y1="296" x2="311.3" y2="326" stroke="#b4b4b4" stroke-width="1.1" stroke-linecap="butt"/>
<line x1="311.3" y1="378" x2="311.3" y2="402" stroke="#b4b4b4" stroke-width="1.1" stroke-linecap="butt"/>
<line x1="311.3" y1="329" x2="311.3" y2="374" stroke="#555" stroke-width="1" stroke-linecap="butt" stroke-dasharray="4 2"/>
<path d="M307.3,335.4 L311.3,331.4 L315.3,335.4 L311.3,339.4 Z" fill="#1c1c1c"/>
<path d="M307.3,366.6 L311.3,362.6 L315.3,366.6 L311.3,370.6 Z" fill="#1c1c1c"/>
<line x1="299.5" y1="314" x2="299.5" y2="410" stroke="#8a8a8a" stroke-width="1.3" stroke-linecap="butt"/>
<line x1="321" y1="314" x2="321" y2="410" stroke="#8a8a8a" stroke-width="1.3" stroke-linecap="butt"/>
<line x1="74" y1="350.7" x2="474" y2="350.7" stroke="#2a2a2a" stroke-width="1.3" stroke-linecap="butt" stroke-dasharray="24 3 3 3"/>
<line x1="116.2" y1="326" x2="116.2" y2="398" stroke="#777" stroke-width="1.1" stroke-linecap="butt"/>
<circle cx="116.2" cy="331.5" r="1.7" fill="#1c1c1c" stroke="none" stroke-width="0"/>
<circle cx="116.2" cy="350.7" r="2" fill="#1c1c1c" stroke="none" stroke-width="0"/>
<circle cx="116.2" cy="391" r="1.7" fill="#1c1c1c" stroke="none" stroke-width="0"/>
</g>
<g id="right">
<line x1="692.9" y1="29" x2="692.9" y2="101" stroke="#8a8a8a" stroke-width="1.5" stroke-linecap="butt"/>
<line x1="1066.9" y1="29" x2="1066.9" y2="101" stroke="#8a8a8a" stroke-width="1.5" stroke-linecap="butt"/>
<line x1="694" y1="40.8" x2="1066" y2="40.8" stroke="#8a8a8a" stroke-width="1.8" stroke-linecap="butt"/>
<path d="M693.6,40.8 C699.2,39.93 701.6,37.9 705.6,37.9 C708.32,37.9 709.6,39.059999999999995 709.6,40.8 C709.6,42.54 708.32,43.699999999999996 705.6,43.699999999999996 C701.6,43.699999999999996 699.2,41.669999999999995 693.6,40.8 Z" fill="#1c1c1c"/>
<path d="M1066.2,40.8 C1060.6,39.93 1058.2,37.9 1054.2,37.9 C1051.48,37.9 1050.2,39.059999999999995 1050.2,40.8 C1050.2,42.54 1051.48,43.699999999999996 1054.2,43.699999999999996 C1058.2,43.699999999999996 1060.6,41.669999999999995 1066.2,40.8 Z" fill="#1c1c1c"/>
<path d="M873.2,20 L877.2,33.4 L880.2,25.8 L883.4,33.4 L887,20" stroke="#2a2a2a" stroke-width="1.9" fill="none" stroke-linejoin="round" stroke-linecap="round"/>
<line x1="693" y1="96.5" x2="741" y2="96.5" stroke="#b4b4b4" stroke-width="1" stroke-linecap="butt"/>
<line x1="1019" y1="96.5" x2="1067" y2="96.5" stroke="#b4b4b4" stroke-width="1" stroke-linecap="butt"/>
<path d="M725.9,93.5 L725.9,65.5 Q725.9,62 728.5,61.8 Q731.1,62 731.1,65.5 L731.1,93.5 Z" stroke="#1c1c1c" stroke-width="1.5" fill="#555" stroke-linejoin="miter" stroke-linecap="butt"/>
<line x1="728.5" y1="66" x2="728.5" y2="92" stroke="#ddd" stroke-width="1.3" stroke-linecap="butt" stroke-dasharray="3 3"/>
<rect x="723.9" y="93.5" width="9.2" height="6.5" fill="#666" stroke="#333" stroke-width="1" rx="0"/>
<line x1="693.9" y1="120" x2="693.9" y2="456" stroke="#3a3a3a" stroke-width="1.3" stroke-linecap="butt"/>
<line x1="693.9" y1="120" x2="693.9" y2="456" stroke="#1c1c1c" stroke-width="2.8" stroke-linecap="butt" stroke-dasharray="7.5 2.6"/>
<line x1="711.7" y1="120" x2="711.7" y2="456" stroke="#3a3a3a" stroke-width="1.3" stroke-linecap="butt"/>
<line x1="711.7" y1="120" x2="711.7" y2="456" stroke="#1c1c1c" stroke-width="2.8" stroke-linecap="butt" stroke-dasharray="7.5 2.6"/>
<line x1="721.6" y1="120" x2="721.6" y2="456" stroke="#3a3a3a" stroke-width="1.3" stroke-linecap="butt"/>
<line x1="721.6" y1="120" x2="721.6" y2="456" stroke="#1c1c1c" stroke-width="2.8" stroke-linecap="butt" stroke-dasharray="7.5 2.6"/>
<line x1="741.6" y1="120" x2="741.6" y2="192" stroke="#1c1c1c" stroke-width="2.8" stroke-linecap="butt" stroke-dasharray="7.5 2.6"/>
<line x1="743.2" y1="120" x2="743.2" y2="192" stroke="#1c1c1c" stroke-width="1.2" stroke-linecap="butt"/>
<line x1="694.5" y1="476" x2="694.5" y2="580" stroke="#444" stroke-width="1.1" stroke-linecap="butt"/>
<line x1="694.5" y1="476" x2="694.5" y2="580" stroke="#1c1c1c" stroke-width="2.2" stroke-linecap="butt" stroke-dasharray="7 2.6"/>
<line x1="711.7" y1="476" x2="711.7" y2="580" stroke="#444" stroke-width="1.1" stroke-linecap="butt"/>
<line x1="711.7" y1="476" x2="711.7" y2="580" stroke="#1c1c1c" stroke-width="2.2" stroke-linecap="butt" stroke-dasharray="7 2.6"/>
<line x1="742.7" y1="486" x2="742.7" y2="581" stroke="#1c1c1c" stroke-width="1.7" stroke-linecap="butt"/>
<line x1="711.7" y1="580.3" x2="743.4" y2="580.3" stroke="#1c1c1c" stroke-width="1.7" stroke-linecap="butt"/>
<line x1="696" y1="582" x2="711" y2="582" stroke="#bdbdbd" stroke-width="3" stroke-linecap="butt"/>
<circle cx="696.3" cy="582" r="2.6" fill="#1c1c1c" stroke="none" stroke-width="0"/>
<circle cx="711.7" cy="582" r="2.6" fill="#1c1c1c" stroke="none" stroke-width="0"/>
<rect x="693.4" y="100.6" width="48.10000000000002" height="19.200000000000003" fill="#fff" stroke="#1c1c1c" stroke-width="2.6" rx="0"/>
<line x1="711.7" y1="100.6" x2="711.7" y2="119.8" stroke="#1c1c1c" stroke-width="2.6" stroke-linecap="butt"/>
<line x1="721.6" y1="100.6" x2="721.6" y2="119.8" stroke="#1c1c1c" stroke-width="2.6" stroke-linecap="butt"/>
<line x1="702.75" y1="101.6" x2="702.75" y2="118.8" stroke="#5a5a5a" stroke-width="2.2" stroke-linecap="butt" stroke-dasharray="2.6 1.6"/>
<line x1="695" y1="110.19999999999999" x2="710.5" y2="110.19999999999999" stroke="#5a5a5a" stroke-width="2.2" stroke-linecap="butt" stroke-dasharray="2.6 1.6"/>
<line x1="731.5" y1="101.6" x2="731.5" y2="118.8" stroke="#5a5a5a" stroke-width="2.2" stroke-linecap="butt" stroke-dasharray="2.6 1.6"/>
<line x1="723" y1="110.19999999999999" x2="740" y2="110.19999999999999" stroke="#5a5a5a" stroke-width="2.2" stroke-linecap="butt" stroke-dasharray="2.6 1.6"/>
<line x1="716.6" y1="100.6" x2="716.6" y2="119.8" stroke="#fff" stroke-width="1.2" stroke-linecap="butt"/>
<rect x="693.4" y="456" width="48.10000000000002" height="19.399999999999977" fill="#fff" stroke="#1c1c1c" stroke-width="2.6" rx="0"/>
<line x1="711.7" y1="456" x2="711.7" y2="475.4" stroke="#1c1c1c" stroke-width="2.6" stroke-linecap="butt"/>
<line x1="721.6" y1="456" x2="721.6" y2="475.4" stroke="#1c1c1c" stroke-width="2.6" stroke-linecap="butt"/>
<line x1="702.75" y1="457" x2="702.75" y2="474.4" stroke="#5a5a5a" stroke-width="2.2" stroke-linecap="butt" stroke-dasharray="2.6 1.6"/>
<line x1="695" y1="465.7" x2="710.5" y2="465.7" stroke="#5a5a5a" stroke-width="2.2" stroke-linecap="butt" stroke-dasharray="2.6 1.6"/>
<line x1="731.5" y1="457" x2="731.5" y2="474.4" stroke="#5a5a5a" stroke-width="2.2" stroke-linecap="butt" stroke-dasharray="2.6 1.6"/>
<line x1="723" y1="465.7" x2="740" y2="465.7" stroke="#5a5a5a" stroke-width="2.2" stroke-linecap="butt" stroke-dasharray="2.6 1.6"/>
<line x1="716.6" y1="456" x2="716.6" y2="475.4" stroke="#fff" stroke-width="1.2" stroke-linecap="butt"/>
<path d="M742.6,95 L742.6,128" stroke="#1c1c1c" stroke-width="4.4" fill="none" stroke-linejoin="miter" stroke-linecap="round"/>
<ellipse cx="743" cy="97.5" rx="3.6" ry="4" fill="#1c1c1c"/>
<ellipse cx="743" cy="125.5" rx="3.4" ry="4" fill="#1c1c1c"/>
<rect x="745.5" y="100.6" width="17.5" height="19.2" fill="#fff" stroke="#1c1c1c" stroke-width="2.6" rx="0"/>
<line x1="741.9" y1="188" x2="741.9" y2="496" stroke="#1c1c1c" stroke-width="5.4" stroke-linecap="butt"/>
<line x1="750.9" y1="199" x2="750.9" y2="486" stroke="#1c1c1c" stroke-width="3.6" stroke-linecap="butt"/>
<rect x="740" y="474" width="13" height="12" fill="#1c1c1c" stroke="none" stroke-width="0" rx="0"/>
<rect x="740" y="196.8" width="13" height="10.5" fill="#1c1c1c" stroke="none" stroke-width="0" rx="0"/>
<line x1="740.2" y1="188" x2="740.2" y2="474" stroke="#1c1c1c" stroke-width="1.3" stroke-linecap="butt" stroke-dasharray="6 3"/>
<line x1="757.6" y1="209" x2="757.6" y2="474" stroke="#8a8a8a" stroke-width="1.3" stroke-linecap="butt" stroke-dasharray="6 3"/>
<line x1="742" y1="304.9" x2="758" y2="304.9" stroke="#1c1c1c" stroke-width="3.4" stroke-linecap="round"/>
<line x1="742" y1="380.8" x2="758" y2="380.8" stroke="#1c1c1c" stroke-width="3.4" stroke-linecap="round"/>
<circle cx="757" cy="329.8" r="2.2" fill="#1c1c1c" stroke="none" stroke-width="0"/>
<circle cx="757" cy="355" r="2.2" fill="#1c1c1c" stroke="none" stroke-width="0"/>
<path d="M752.7,207 L752.7,190.8 L773.5,190.8 L773.5,207" stroke="#1c1c1c" stroke-width="2" fill="none" stroke-linejoin="round" stroke-linecap="butt"/>
<path d="M773.5,207 L773.5,188.8 L795.2,188.8 L795.2,207" stroke="#1c1c1c" stroke-width="2" fill="none" stroke-linejoin="round" stroke-linecap="butt"/>
<path d="M795.2,207 L795.2,192.2 L817,192.2 L817,207" stroke="#1c1c1c" stroke-width="2" fill="none" stroke-linejoin="round" stroke-linecap="butt"/>
<path d="M817,207 L817,200.7 L837.8,200.7 L837.8,207" stroke="#8a8a8a" stroke-width="1.6" fill="none" stroke-linejoin="round" stroke-linecap="butt"/>
<line x1="773.5" y1="190" x2="773.5" y2="207" stroke="#1c1c1c" stroke-width="2.6" stroke-linecap="butt"/>
<line x1="795.2" y1="190" x2="795.2" y2="207" stroke="#1c1c1c" stroke-width="2.6" stroke-linecap="butt"/>
<line x1="817" y1="193" x2="817" y2="207" stroke="#1c1c1c" stroke-width="2.4" stroke-linecap="butt"/>
<line x1="837.8" y1="202" x2="837.8" y2="207" stroke="#1c1c1c" stroke-width="2.4" stroke-linecap="butt"/>
<line x1="775" y1="188.8" x2="794" y2="188.8" stroke="#8a8a8a" stroke-width="1.5" stroke-linecap="butt"/>
<line x1="797" y1="192.2" x2="815" y2="192.2" stroke="#555" stroke-width="1.6" stroke-linecap="butt"/>
<path d="M837.8,236.3 L858.6,236.3 L858.6,219.5" stroke="#8a8a8a" stroke-width="1.5" fill="none" stroke-linejoin="miter" stroke-linecap="butt"/>
<line x1="837.8" y1="219.5" x2="837.8" y2="236.3" stroke="#1c1c1c" stroke-width="2.4" stroke-linecap="butt"/>
<line x1="858.6" y1="219.5" x2="858.6" y2="236.3" stroke="#444" stroke-width="2" stroke-linecap="butt"/>
<path d="M817,255.8 L837.8,255.8 L837.8,238.3" stroke="#8a8a8a" stroke-width="1.5" fill="none" stroke-linejoin="miter" stroke-linecap="butt"/>
<line x1="817" y1="238.3" x2="817" y2="255.8" stroke="#1c1c1c" stroke-width="2.4" stroke-linecap="butt"/>
<line x1="837.8" y1="238.3" x2="837.8" y2="255.8" stroke="#444" stroke-width="2" stroke-linecap="butt"/>
<path d="M795.2,273.9 L817,273.9 L817,258.1" stroke="#8a8a8a" stroke-width="1.5" fill="none" stroke-linejoin="miter" stroke-linecap="butt"/>
<line x1="795.2" y1="258.1" x2="795.2" y2="273.9" stroke="#1c1c1c" stroke-width="2.4" stroke-linecap="butt"/>
<line x1="817" y1="258.1" x2="817" y2="273.9" stroke="#444" stroke-width="2" stroke-linecap="butt"/>
<path d="M773.5,295.6 L795.2,295.6 L795.2,282.5" stroke="#8a8a8a" stroke-width="1.5" fill="none" stroke-linejoin="miter" stroke-linecap="butt"/>
<line x1="773.5" y1="282.5" x2="773.5" y2="295.6" stroke="#1c1c1c" stroke-width="2.4" stroke-linecap="butt"/>
<line x1="795.2" y1="282.5" x2="795.2" y2="295.6" stroke="#444" stroke-width="2" stroke-linecap="butt"/>
<path d="M757,318.4 L773.5,318.4 L773.5,307.5" stroke="#8a8a8a" stroke-width="1.5" fill="none" stroke-linejoin="miter" stroke-linecap="butt"/>
<line x1="757" y1="307.5" x2="757" y2="318.4" stroke="#1c1c1c" stroke-width="2.4" stroke-linecap="butt"/>
<line x1="773.5" y1="307.5" x2="773.5" y2="318.4" stroke="#444" stroke-width="2" stroke-linecap="butt"/>
<path d="M858.6,207 L858.6,219.5 L837.8,219.5 L837.8,238.3 L817,238.3 L817,258.1 L795.2,258.1 L795.2,282.5 L773.5,282.5 L773.5,307.5 L756.6,307.5" stroke="#1c1c1c" stroke-width="3.1" fill="none" stroke-linejoin="round" stroke-linecap="round"/>
<path d="M861.8,334 L861.8,361.8 L840.6,361.8 L840.6,386.2 L819.8,386.2 L819.8,411 L798.4,411 L798.4,432.3 L777.4,432.3 L777.4,453.5 L755.6,453.5" stroke="#1c1c1c" stroke-width="3.1" fill="none" stroke-linejoin="round" stroke-linecap="round"/>
<line x1="842" y1="365.2" x2="861" y2="365.2" stroke="#8a8a8a" stroke-width="1.4" stroke-linecap="butt"/>
<line x1="800" y1="407.8" x2="819" y2="407.8" stroke="#8a8a8a" stroke-width="1.4" stroke-linecap="butt"/>
<line x1="779" y1="427.6" x2="798" y2="427.6" stroke="#8a8a8a" stroke-width="1.4" stroke-linecap="butt"/>
<line x1="757" y1="443" x2="777" y2="443" stroke="#8a8a8a" stroke-width="1.4" stroke-linecap="butt"/>
<line x1="757" y1="443" x2="757" y2="453" stroke="#8a8a8a" stroke-width="1.3" stroke-linecap="butt"/>
<path d="M777.4,474 L777.4,487 L798.2,487" stroke="#555" stroke-width="1.8" fill="none" stroke-linejoin="miter" stroke-linecap="butt"/>
<path d="M798.2,474 L798.2,494 L841.2,494.6" stroke="#1c1c1c" stroke-width="2.2" fill="none" stroke-linejoin="round" stroke-linecap="butt"/>
<line x1="819.8" y1="474" x2="819.8" y2="494" stroke="#555" stroke-width="1.8" stroke-linecap="butt"/>
<path d="M841.2,494.6 L841.2,474.4 L861.8,474.4 M841.2,490.3 L861.8,490.3 L861.8,468.5" stroke="#1c1c1c" stroke-width="2.6" fill="none" stroke-linejoin="round" stroke-linecap="butt"/>
<path d="M1028.7,93.5 L1028.7,65.5 Q1028.7,62 1031.3,61.8 Q1033.8999999999999,62 1033.8999999999999,65.5 L1033.8999999999999,93.5 Z" stroke="#1c1c1c" stroke-width="1.5" fill="#555" stroke-linejoin="miter" stroke-linecap="butt"/>
<line x1="1031.3" y1="66" x2="1031.3" y2="92" stroke="#ddd" stroke-width="1.3" stroke-linecap="butt" stroke-dasharray="3 3"/>
<rect x="1026.7" y="93.5" width="9.2" height="6.5" fill="#666" stroke="#333" stroke-width="1" rx="0"/>
<line x1="1065.9" y1="120" x2="1065.9" y2="456" stroke="#3a3a3a" stroke-width="1.3" stroke-linecap="butt"/>
<line x1="1065.9" y1="120" x2="1065.9" y2="456" stroke="#1c1c1c" stroke-width="2.8" stroke-linecap="butt" stroke-dasharray="7.5 2.6"/>
<line x1="1048.1" y1="120" x2="1048.1" y2="456" stroke="#3a3a3a" stroke-width="1.3" stroke-linecap="butt"/>
<line x1="1048.1" y1="120" x2="1048.1" y2="456" stroke="#1c1c1c" stroke-width="2.8" stroke-linecap="butt" stroke-dasharray="7.5 2.6"/>
<line x1="1038.2" y1="120" x2="1038.2" y2="456" stroke="#3a3a3a" stroke-width="1.3" stroke-linecap="butt"/>
<line x1="1038.2" y1="120" x2="1038.2" y2="456" stroke="#1c1c1c" stroke-width="2.8" stroke-linecap="butt" stroke-dasharray="7.5 2.6"/>
<line x1="1018.2" y1="120" x2="1018.2" y2="192" stroke="#1c1c1c" stroke-width="2.8" stroke-linecap="butt" stroke-dasharray="7.5 2.6"/>
<line x1="1016.6" y1="120" x2="1016.6" y2="192" stroke="#1c1c1c" stroke-width="1.2" stroke-linecap="butt"/>
<line x1="1065.3" y1="476" x2="1065.3" y2="580" stroke="#444" stroke-width="1.1" stroke-linecap="butt"/>
<line x1="1065.3" y1="476" x2="1065.3" y2="580" stroke="#1c1c1c" stroke-width="2.2" stroke-linecap="butt" stroke-dasharray="7 2.6"/>
<line x1="1048.1" y1="476" x2="1048.1" y2="580" stroke="#444" stroke-width="1.1" stroke-linecap="butt"/>
<line x1="1048.1" y1="476" x2="1048.1" y2="580" stroke="#1c1c1c" stroke-width="2.2" stroke-linecap="butt" stroke-dasharray="7 2.6"/>
<line x1="1017.1" y1="486" x2="1017.1" y2="581" stroke="#1c1c1c" stroke-width="1.7" stroke-linecap="butt"/>
<line x1="1048.1" y1="580.3" x2="1016.4" y2="580.3" stroke="#1c1c1c" stroke-width="1.7" stroke-linecap="butt"/>
<line x1="1063.8" y1="582" x2="1048.8" y2="582" stroke="#bdbdbd" stroke-width="3" stroke-linecap="butt"/>
<circle cx="1063.5" cy="582" r="2.6" fill="#1c1c1c" stroke="none" stroke-width="0"/>
<circle cx="1048.1" cy="582" r="2.6" fill="#1c1c1c" stroke="none" stroke-width="0"/>
<rect x="1018.3" y="100.6" width="48.100000000000136" height="19.200000000000003" fill="#fff" stroke="#1c1c1c" stroke-width="2.6" rx="0"/>
<line x1="1048.1" y1="100.6" x2="1048.1" y2="119.8" stroke="#1c1c1c" stroke-width="2.6" stroke-linecap="butt"/>
<line x1="1038.2" y1="100.6" x2="1038.2" y2="119.8" stroke="#1c1c1c" stroke-width="2.6" stroke-linecap="butt"/>
<line x1="1057.05" y1="101.6" x2="1057.05" y2="118.8" stroke="#5a5a5a" stroke-width="2.2" stroke-linecap="butt" stroke-dasharray="2.6 1.6"/>
<line x1="1064.8" y1="110.19999999999999" x2="1049.3" y2="110.19999999999999" stroke="#5a5a5a" stroke-width="2.2" stroke-linecap="butt" stroke-dasharray="2.6 1.6"/>
<line x1="1028.3" y1="101.6" x2="1028.3" y2="118.8" stroke="#5a5a5a" stroke-width="2.2" stroke-linecap="butt" stroke-dasharray="2.6 1.6"/>
<line x1="1036.8" y1="110.19999999999999" x2="1019.8" y2="110.19999999999999" stroke="#5a5a5a" stroke-width="2.2" stroke-linecap="butt" stroke-dasharray="2.6 1.6"/>
<line x1="1043.2" y1="100.6" x2="1043.2" y2="119.8" stroke="#fff" stroke-width="1.2" stroke-linecap="butt"/>
<rect x="1018.3" y="456" width="48.100000000000136" height="19.399999999999977" fill="#fff" stroke="#1c1c1c" stroke-width="2.6" rx="0"/>
<line x1="1048.1" y1="456" x2="1048.1" y2="475.4" stroke="#1c1c1c" stroke-width="2.6" stroke-linecap="butt"/>
<line x1="1038.2" y1="456" x2="1038.2" y2="475.4" stroke="#1c1c1c" stroke-width="2.6" stroke-linecap="butt"/>
<line x1="1057.05" y1="457" x2="1057.05" y2="474.4" stroke="#5a5a5a" stroke-width="2.2" stroke-linecap="butt" stroke-dasharray="2.6 1.6"/>
<line x1="1064.8" y1="465.7" x2="1049.3" y2="465.7" stroke="#5a5a5a" stroke-width="2.2" stroke-linecap="butt" stroke-dasharray="2.6 1.6"/>
<line x1="1028.3" y1="457" x2="1028.3" y2="474.4" stroke="#5a5a5a" stroke-width="2.2" stroke-linecap="butt" stroke-dasharray="2.6 1.6"/>
<line x1="1036.8" y1="465.7" x2="1019.8" y2="465.7" stroke="#5a5a5a" stroke-width="2.2" stroke-linecap="butt" stroke-dasharray="2.6 1.6"/>
<line x1="1043.2" y1="456" x2="1043.2" y2="475.4" stroke="#fff" stroke-width="1.2" stroke-linecap="butt"/>
<path d="M1017.2,95 L1017.2,128" stroke="#1c1c1c" stroke-width="4.4" fill="none" stroke-linejoin="miter" stroke-linecap="round"/>
<ellipse cx="1016.8" cy="97.5" rx="3.6" ry="4" fill="#1c1c1c"/>
<ellipse cx="1016.8" cy="125.5" rx="3.4" ry="4" fill="#1c1c1c"/>
<rect x="996.8" y="100.6" width="17.5" height="19.2" fill="#fff" stroke="#1c1c1c" stroke-width="2.6" rx="0"/>
<line x1="1017.9" y1="188" x2="1017.9" y2="496" stroke="#1c1c1c" stroke-width="5.4" stroke-linecap="butt"/>
<line x1="1008.9" y1="199" x2="1008.9" y2="486" stroke="#1c1c1c" stroke-width="3.6" stroke-linecap="butt"/>
<rect x="1006.8" y="474" width="13" height="12" fill="#1c1c1c" stroke="none" stroke-width="0" rx="0"/>
<rect x="1006.8" y="196.8" width="13" height="10.5" fill="#1c1c1c" stroke="none" stroke-width="0" rx="0"/>
<line x1="1019.6" y1="188" x2="1019.6" y2="474" stroke="#1c1c1c" stroke-width="1.3" stroke-linecap="butt" stroke-dasharray="6 3"/>
<line x1="1002.2" y1="209" x2="1002.2" y2="474" stroke="#8a8a8a" stroke-width="1.3" stroke-linecap="butt" stroke-dasharray="6 3"/>
<line x1="1017.8" y1="304.9" x2="1001.8" y2="304.9" stroke="#1c1c1c" stroke-width="3.4" stroke-linecap="round"/>
<line x1="1017.8" y1="380.8" x2="1001.8" y2="380.8" stroke="#1c1c1c" stroke-width="3.4" stroke-linecap="round"/>
<circle cx="1002.8" cy="329.8" r="2.2" fill="#1c1c1c" stroke="none" stroke-width="0"/>
<circle cx="1002.8" cy="355" r="2.2" fill="#1c1c1c" stroke="none" stroke-width="0"/>
<path d="M1007.1,207 L1007.1,190.8 L986.3,190.8 L986.3,207" stroke="#1c1c1c" stroke-width="2" fill="none" stroke-linejoin="round" stroke-linecap="butt"/>
<path d="M986.3,207 L986.3,188.8 L964.6,188.8 L964.6,207" stroke="#1c1c1c" stroke-width="2" fill="none" stroke-linejoin="round" stroke-linecap="butt"/>
<path d="M964.6,207 L964.6,192.2 L942.8,192.2 L942.8,207" stroke="#1c1c1c" stroke-width="2" fill="none" stroke-linejoin="round" stroke-linecap="butt"/>
<path d="M942.8,207 L942.8,200.7 L922.0,200.7 L922.0,207" stroke="#8a8a8a" stroke-width="1.6" fill="none" stroke-linejoin="round" stroke-linecap="butt"/>
<line x1="986.3" y1="190" x2="986.3" y2="207" stroke="#1c1c1c" stroke-width="2.6" stroke-linecap="butt"/>
<line x1="964.6" y1="190" x2="964.6" y2="207" stroke="#1c1c1c" stroke-width="2.6" stroke-linecap="butt"/>
<line x1="942.8" y1="193" x2="942.8" y2="207" stroke="#1c1c1c" stroke-width="2.4" stroke-linecap="butt"/>
<line x1="922.0" y1="202" x2="922.0" y2="207" stroke="#1c1c1c" stroke-width="2.4" stroke-linecap="butt"/>
<line x1="984.8" y1="188.8" x2="965.8" y2="188.8" stroke="#8a8a8a" stroke-width="1.5" stroke-linecap="butt"/>
<line x1="962.8" y1="192.2" x2="944.8" y2="192.2" stroke="#555" stroke-width="1.6" stroke-linecap="butt"/>
<path d="M922.0,236.3 L901.2,236.3 L901.2,219.5" stroke="#8a8a8a" stroke-width="1.5" fill="none" stroke-linejoin="miter" stroke-linecap="butt"/>
<line x1="922.0" y1="219.5" x2="922.0" y2="236.3" stroke="#1c1c1c" stroke-width="2.4" stroke-linecap="butt"/>
<line x1="901.2" y1="219.5" x2="901.2" y2="236.3" stroke="#444" stroke-width="2" stroke-linecap="butt"/>
<path d="M942.8,255.8 L922.0,255.8 L922.0,238.3" stroke="#8a8a8a" stroke-width="1.5" fill="none" stroke-linejoin="miter" stroke-linecap="butt"/>
<line x1="942.8" y1="238.3" x2="942.8" y2="255.8" stroke="#1c1c1c" stroke-width="2.4" stroke-linecap="butt"/>
<line x1="922.0" y1="238.3" x2="922.0" y2="255.8" stroke="#444" stroke-width="2" stroke-linecap="butt"/>
<path d="M964.6,273.9 L942.8,273.9 L942.8,258.1" stroke="#8a8a8a" stroke-width="1.5" fill="none" stroke-linejoin="miter" stroke-linecap="butt"/>
<line x1="964.6" y1="258.1" x2="964.6" y2="273.9" stroke="#1c1c1c" stroke-width="2.4" stroke-linecap="butt"/>
<line x1="942.8" y1="258.1" x2="942.8" y2="273.9" stroke="#444" stroke-width="2" stroke-linecap="butt"/>
<path d="M986.3,295.6 L964.6,295.6 L964.6,282.5" stroke="#8a8a8a" stroke-width="1.5" fill="none" stroke-linejoin="miter" stroke-linecap="butt"/>
<line x1="986.3" y1="282.5" x2="986.3" y2="295.6" stroke="#1c1c1c" stroke-width="2.4" stroke-linecap="butt"/>
<line x1="964.6" y1="282.5" x2="964.6" y2="295.6" stroke="#444" stroke-width="2" stroke-linecap="butt"/>
<path d="M1002.8,318.4 L986.3,318.4 L986.3,307.5" stroke="#8a8a8a" stroke-width="1.5" fill="none" stroke-linejoin="miter" stroke-linecap="butt"/>
<line x1="1002.8" y1="307.5" x2="1002.8" y2="318.4" stroke="#1c1c1c" stroke-width="2.4" stroke-linecap="butt"/>
<line x1="986.3" y1="307.5" x2="986.3" y2="318.4" stroke="#444" stroke-width="2" stroke-linecap="butt"/>
<path d="M901.2,207 L901.2,219.5 L922.0,219.5 L922.0,238.3 L942.8,238.3 L942.8,258.1 L964.6,258.1 L964.6,282.5 L986.3,282.5 L986.3,307.5 L1003.2,307.5" stroke="#1c1c1c" stroke-width="3.1" fill="none" stroke-linejoin="round" stroke-linecap="round"/>
<path d="M898.0,334 L898.0,361.8 L919.2,361.8 L919.2,386.2 L940.0,386.2 L940.0,411 L961.4,411 L961.4,432.3 L982.4,432.3 L982.4,453.5 L1004.2,453.5" stroke="#1c1c1c" stroke-width="3.1" fill="none" stroke-linejoin="round" stroke-linecap="round"/>
<line x1="917.8" y1="365.2" x2="898.8" y2="365.2" stroke="#8a8a8a" stroke-width="1.4" stroke-linecap="butt"/>
<line x1="959.8" y1="407.8" x2="940.8" y2="407.8" stroke="#8a8a8a" stroke-width="1.4" stroke-linecap="butt"/>
<line x1="980.8" y1="427.6" x2="961.8" y2="427.6" stroke="#8a8a8a" stroke-width="1.4" stroke-linecap="butt"/>
<line x1="1002.8" y1="443" x2="982.8" y2="443" stroke="#8a8a8a" stroke-width="1.4" stroke-linecap="butt"/>
<line x1="1002.8" y1="443" x2="1002.8" y2="453" stroke="#8a8a8a" stroke-width="1.3" stroke-linecap="butt"/>
<path d="M982.4,474 L982.4,487 L961.6,487" stroke="#555" stroke-width="1.8" fill="none" stroke-linejoin="miter" stroke-linecap="butt"/>
<path d="M961.6,474 L961.6,494 L918.6,494.6" stroke="#1c1c1c" stroke-width="2.2" fill="none" stroke-linejoin="round" stroke-linecap="butt"/>
<line x1="940.0" y1="474" x2="940.0" y2="494" stroke="#555" stroke-width="1.8" stroke-linecap="butt"/>
<path d="M918.6,494.6 L918.6,474.4 L898.0,474.4 M918.6,490.3 L898.0,490.3 L898.0,468.5" stroke="#1c1c1c" stroke-width="2.6" fill="none" stroke-linejoin="round" stroke-linecap="butt"/>
<g>
<line x1="763" y1="100.6" x2="997" y2="100.6" stroke="#333" stroke-width="1.4" stroke-linecap="butt"/>
<line x1="763" y1="119" x2="997" y2="119" stroke="#333" stroke-width="1.4" stroke-linecap="butt"/>
<line x1="763" y1="100.6" x2="997" y2="100.6" stroke="#1c1c1c" stroke-width="3.2" stroke-linecap="butt" stroke-dasharray="8 3"/>
<line x1="763" y1="119" x2="997" y2="119" stroke="#1c1c1c" stroke-width="3.2" stroke-linecap="butt" stroke-dasharray="8 3"/>
<line x1="745" y1="120.6" x2="1015" y2="120.6" stroke="#1c1c1c" stroke-width="1.3" stroke-linecap="butt"/>
<line x1="745" y1="207" x2="1015" y2="207" stroke="#1c1c1c" stroke-width="2.8" stroke-linecap="butt"/>
<line x1="758" y1="208.8" x2="1002" y2="208.8" stroke="#1c1c1c" stroke-width="2" stroke-linecap="butt" stroke-dasharray="7 3.5"/>
<line x1="857.6" y1="205.8" x2="902.2" y2="205.8" stroke="#1c1c1c" stroke-width="3.6" stroke-linecap="round"/>
<line x1="859" y1="224.8" x2="901" y2="224.8" stroke="#8a8a8a" stroke-width="1.5" stroke-linecap="butt"/>
<line x1="758" y1="330.6" x2="1002" y2="330.6" stroke="#8a8a8a" stroke-width="1.8" stroke-linecap="butt" stroke-dasharray="7.5 5"/>
<line x1="758" y1="353.8" x2="1002" y2="353.8" stroke="#8a8a8a" stroke-width="1.8" stroke-linecap="butt" stroke-dasharray="7.5 5"/>
<line x1="756" y1="342" x2="1003" y2="342" stroke="#777" stroke-width="1.5" stroke-linecap="butt" stroke-dasharray="18 4 3 4"/>
<line x1="861.8" y1="334" x2="898" y2="334" stroke="#1c1c1c" stroke-width="2.8" stroke-linecap="round"/>
<circle cx="794.3" cy="366.3" r="1.3" fill="#1c1c1c" stroke="none" stroke-width="0"/>
<rect x="719" y="332" width="20" height="20" fill="#ececec" stroke="#bbb" stroke-width="1" rx="0"/>
<line x1="734" y1="333" x2="734" y2="351" stroke="#aaa" stroke-width="2" stroke-linecap="butt"/>
<line x1="737.5" y1="333" x2="737.5" y2="351" stroke="#bbb" stroke-width="1.2" stroke-linecap="butt"/>
<line x1="704" y1="342" x2="741" y2="342" stroke="#555" stroke-width="1" stroke-linecap="butt" stroke-dasharray="5 2 2 2"/>
<circle cx="711.7" cy="342" r="2.4" fill="#1c1c1c" stroke="none" stroke-width="0"/>
<circle cx="721.6" cy="333" r="2.2" fill="#1c1c1c" stroke="none" stroke-width="0"/>
<circle cx="721.6" cy="351" r="2.2" fill="#1c1c1c" stroke="none" stroke-width="0"/>
<line x1="758" y1="474" x2="1002" y2="474" stroke="#555" stroke-width="1.4" stroke-linecap="butt" stroke-dasharray="7 4"/>
<path d="M860.6,468 L860.6,459.5 Q860.6,456 864,456 L895.8,456 Q899.2,456 899.2,459.5 L899.2,468" stroke="#8a8a8a" stroke-width="1.5" fill="none" stroke-linejoin="miter" stroke-linecap="butt"/>
<line x1="861.8" y1="468.5" x2="898" y2="468.5" stroke="#1c1c1c" stroke-width="2.8" stroke-linecap="round"/>
<line x1="866" y1="474.6" x2="894" y2="474.6" stroke="#666" stroke-width="2.4" stroke-linecap="butt" stroke-dasharray="6 4"/>
</g>
<rect x="1071.8" y="293.6" width="66" height="99.5" fill="none" stroke="#b8b8b8" stroke-width="1.4" rx="0"/>
<line x1="1079" y1="297.3" x2="1079" y2="325" stroke="#b8b8b8" stroke-width="1.2" stroke-linecap="butt"/>
<line x1="1079" y1="358" x2="1079" y2="388.4" stroke="#b8b8b8" stroke-width="1.2" stroke-linecap="butt"/>
<line x1="1130.6" y1="297.3" x2="1130.6" y2="325" stroke="#b8b8b8" stroke-width="1.2" stroke-linecap="butt"/>
<line x1="1130.6" y1="358" x2="1130.6" y2="388.4" stroke="#b8b8b8" stroke-width="1.2" stroke-linecap="butt"/>
<line x1="1079" y1="297.3" x2="1130.6" y2="297.3" stroke="#b8b8b8" stroke-width="1.2" stroke-linecap="butt"/>
<line x1="1079" y1="388.4" x2="1130.6" y2="388.4" stroke="#b8b8b8" stroke-width="1.2" stroke-linecap="butt"/>
<path d="M1074.5,330 L1074.5,308 Q1074.5,304 1078,304 M1135.2,330 L1135.2,308 Q1135.2,304 1131.5,304 M1074.5,354 L1074.5,376 Q1074.5,380 1078,380 M1135.2,354 L1135.2,376 Q1135.2,380 1131.5,380" stroke="#b8b8b8" stroke-width="1.2" fill="none" stroke-linejoin="miter" stroke-linecap="butt"/>
<path d="M1100.8,293.6 L1100.8,303 Q1100.8,306.8 1104.6,306.8 Q1108.4,306.8 1108.4,303 L1108.4,293.6" stroke="#b8b8b8" stroke-width="1.2" fill="none" stroke-linejoin="miter" stroke-linecap="butt"/>
<rect x="1138.7" y="329.6" width="13.3" height="23.7" fill="#fff" stroke="#8a8a8a" stroke-width="1.5" rx="3"/>
<line x1="1143" y1="331" x2="1143" y2="352" stroke="#b8b8b8" stroke-width="1.1" stroke-linecap="butt"/>
<line x1="1135" y1="334" x2="1139" y2="334" stroke="#8a8a8a" stroke-width="1.2" stroke-linecap="butt"/>
<line x1="1135" y1="349" x2="1139" y2="349" stroke="#8a8a8a" stroke-width="1.2" stroke-linecap="butt"/>
<rect x="1020" y="331.9" width="52" height="19.8" fill="#fff" stroke="#b4b4b4" stroke-width="1.2" rx="0"/>
<line x1="1020" y1="338" x2="1072" y2="338" stroke="#b4b4b4" stroke-width="1" stroke-linecap="butt"/>
<line x1="1020" y1="346" x2="1072" y2="346" stroke="#b4b4b4" stroke-width="1" stroke-linecap="butt"/>
<circle cx="1105" cy="341.6" r="30.8" fill="#fff" stroke="#7c7c7c" stroke-width="1.9"/>
<circle cx="1105" cy="341.6" r="27.4" fill="none" stroke="#c4c4c4" stroke-width="1.1"/>
<line x1="1105.1" y1="313.3" x2="1105.1" y2="370.2" stroke="#333" stroke-width="1.5" stroke-linecap="butt" stroke-dasharray="9 3 2 3"/>
<line x1="1075.4" y1="341.8" x2="1136" y2="341.8" stroke="#333" stroke-width="1.5" stroke-linecap="butt" stroke-dasharray="9 3 2 3"/>
<circle cx="1105.1" cy="341.8" r="1.8" fill="#1c1c1c" stroke="none" stroke-width="0"/>
<circle cx="1105.1" cy="313.5" r="1.4" fill="#1c1c1c" stroke="none" stroke-width="0"/>
<circle cx="1105.1" cy="370" r="1.4" fill="#1c1c1c" stroke="none" stroke-width="0"/>
<line x1="1038.2" y1="325" x2="1038.2" y2="360" stroke="#1c1c1c" stroke-width="2.6" stroke-linecap="butt" stroke-dasharray="7.5 2.6"/>
<circle cx="1038.2" cy="332" r="2" fill="#1c1c1c" stroke="none" stroke-width="0"/>
<circle cx="1038.2" cy="351.6" r="2" fill="#1c1c1c" stroke="none" stroke-width="0"/>
<line x1="1048.1" y1="325" x2="1048.1" y2="360" stroke="#1c1c1c" stroke-width="2.6" stroke-linecap="butt" stroke-dasharray="7.5 2.6"/>
<circle cx="1048.1" cy="332" r="2" fill="#1c1c1c" stroke="none" stroke-width="0"/>
<circle cx="1048.1" cy="351.6" r="2" fill="#1c1c1c" stroke="none" stroke-width="0"/>
<line x1="1065.9" y1="325" x2="1065.9" y2="360" stroke="#1c1c1c" stroke-width="2.6" stroke-linecap="butt" stroke-dasharray="7.5 2.6"/>
<circle cx="1065.9" cy="332" r="2" fill="#1c1c1c" stroke="none" stroke-width="0"/>
<circle cx="1065.9" cy="351.6" r="2" fill="#1c1c1c" stroke="none" stroke-width="0"/>
<path d="M1064,324 L1070.5,326.8 L1066,330.5 Z M1066,353 L1070.5,356.8 L1064,359.5 Z" stroke="#1c1c1c" stroke-width="1" fill="#1c1c1c" stroke-linejoin="miter" stroke-linecap="butt"/>
<line x1="1003" y1="342" x2="1075" y2="342" stroke="#555" stroke-width="1" stroke-linecap="butt" stroke-dasharray="5 2 2 2"/>
<line x1="990" y1="307" x2="1011" y2="307" stroke="#1c1c1c" stroke-width="3" stroke-linecap="butt"/>
<path d="M996,328.5 L1011,328.5" stroke="#1c1c1c" stroke-width="5" fill="none" stroke-linejoin="miter" stroke-linecap="round"/>
<path d="M996,354.5 L1011,354.5" stroke="#1c1c1c" stroke-width="5" fill="none" stroke-linejoin="miter" stroke-linecap="round"/>
<path d="M1003,379.5 L1011,379.5" stroke="#1c1c1c" stroke-width="4.4" fill="none" stroke-linejoin="miter" stroke-linecap="round"/>
<circle cx="993.5" cy="342" r="1.6" fill="#1c1c1c" stroke="none" stroke-width="0"/>
<circle cx="993.5" cy="331" r="1.6" fill="#1c1c1c" stroke="none" stroke-width="0"/>
<circle cx="993.5" cy="353" r="1.6" fill="#1c1c1c" stroke="none" stroke-width="0"/>
</g>
</svg>
</body></html>
